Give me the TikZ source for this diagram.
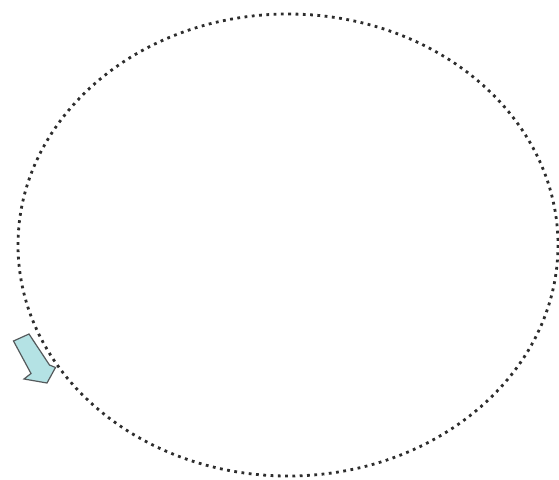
\documentclass[tikz,border=0pt]{standalone}
\begin{document}
\definecolor{arrowfill}{RGB}{180,226,228}
\definecolor{arrowline}{RGB}{85,90,92}
\definecolor{dotcol}{RGB}{45,45,45}
\begin{tikzpicture}[x=1pt,y=-1pt,
  dotline/.style={draw=dotcol,line width=2.8pt,dash pattern=on 2.8pt off 4.5pt},
  blockarrow/.style={draw=arrowline,fill=arrowfill,line width=1.2pt,line join=miter}]
\useasboundingbox (0,0) rectangle (559,479);
\node[draw=none,fill=none,minimum size=0pt,inner sep=0pt] (c) at (288,245) {};
\draw[dotline] (c) ellipse [x radius=270, y radius=231];
\coordinate (t1) at (29,334);
\coordinate (s1) at (49.5,365);
\coordinate (b1) at (55.5,367.5);
\coordinate (tip) at (47,383);
\coordinate (b2) at (24,379);
\coordinate (s2) at (31,373.5);
\coordinate (t2) at (13.5,341);
\draw[blockarrow] (t1) -- (s1) -- (b1) -- (tip) -- (b2) -- (s2) -- (t2) -- cycle;
\end{tikzpicture}
\end{document}
